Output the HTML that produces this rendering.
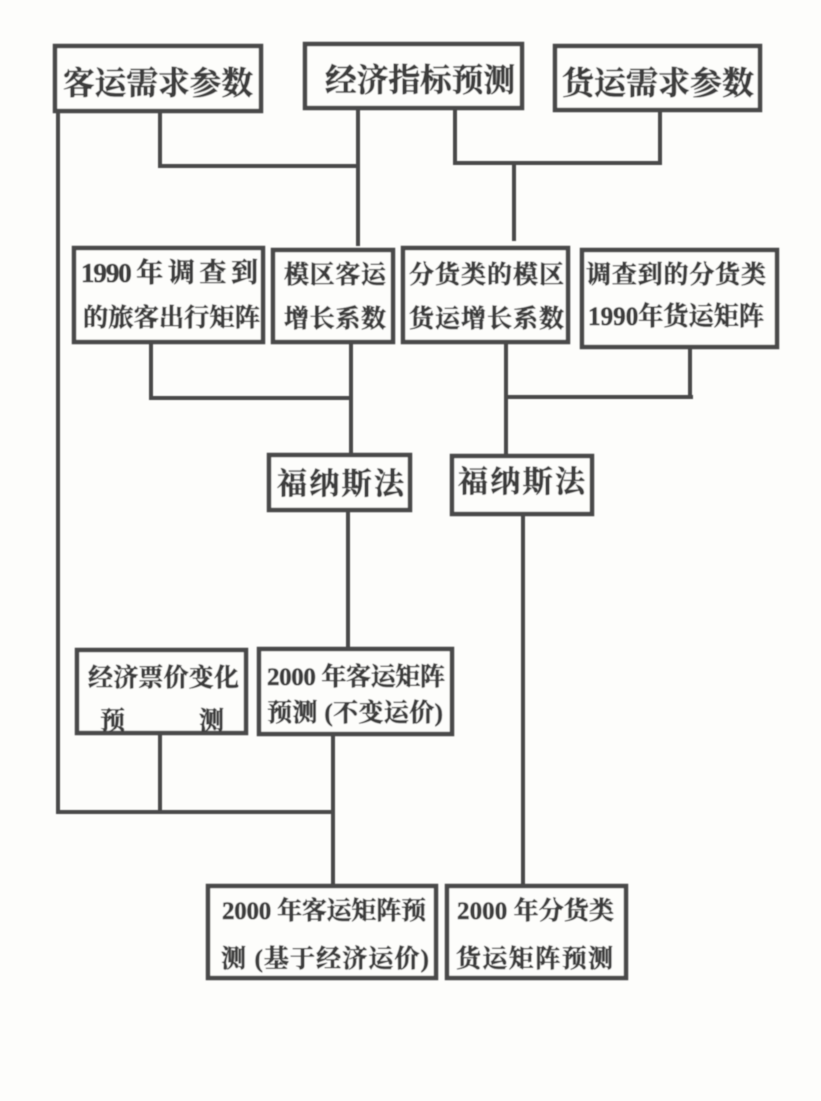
<!DOCTYPE html>
<html lang="zh">
<head>
<meta charset="utf-8">
<title>预测流程图</title>
<style>
html,body{margin:0;padding:0;background:#fdfdfb;}
svg{display:block;}
text{font-family:"Liberation Serif","Noto Serif CJK SC",serif;font-weight:700;fill:#3c3c3c;stroke:#3c3c3c;stroke-width:.6;}
rect{fill:#fdfdfb;stroke:#4a4a4a;stroke-width:4.5;}
line{stroke:#4a4a4a;stroke-width:4;}
</style>
</head>
<body>
<svg xmlns="http://www.w3.org/2000/svg" width="821" height="1101" viewBox="0 0 821 1101">
<defs><filter id="b" filterUnits="userSpaceOnUse" x="0" y="0" width="821" height="1101"><feGaussianBlur stdDeviation="0.6"/></filter></defs>
<g filter="url(#b)">
<!-- connectors -->
<line x1="58" y1="111" x2="58" y2="814"/>
<line x1="56" y1="812" x2="335" y2="812"/>
<line x1="160" y1="111" x2="160" y2="167"/>
<line x1="158" y1="166" x2="358" y2="166"/>
<line x1="358" y1="108" x2="358" y2="246"/>
<line x1="455" y1="108" x2="455" y2="165"/>
<line x1="453" y1="163" x2="662" y2="163"/>
<line x1="660" y1="110" x2="660" y2="165"/>
<line x1="514" y1="163" x2="514" y2="241"/>
<line x1="151" y1="342" x2="151" y2="400"/>
<line x1="149" y1="398" x2="351" y2="398"/>
<line x1="351" y1="342" x2="351" y2="454"/>
<line x1="506" y1="342" x2="506" y2="455"/>
<line x1="690" y1="347" x2="690" y2="399"/>
<line x1="504" y1="397" x2="693" y2="397"/>
<line x1="348" y1="510" x2="348" y2="648"/>
<line x1="523" y1="514" x2="523" y2="885"/>
<line x1="160" y1="733" x2="160" y2="812"/>
<line x1="333" y1="734" x2="333" y2="885"/>
<!-- boxes -->
<rect x="55" y="46" width="206" height="65"/>
<rect x="305" y="44" width="217" height="64"/>
<rect x="555" y="46" width="205" height="64"/>
<rect x="74" y="248" width="189" height="94"/>
<rect x="273" y="250" width="120" height="92"/>
<rect x="403" y="248" width="165" height="94"/>
<rect x="582" y="250" width="195" height="97"/>
<rect x="269" y="455" width="141" height="55"/>
<rect x="452" y="456" width="140" height="58"/>
<rect x="77" y="650" width="169" height="83"/>
<rect x="259" y="649" width="193" height="85"/>
<rect x="208" y="886" width="228" height="92"/>
<rect x="447" y="886" width="179" height="92"/>
<!-- labels -->
<text x="63" y="94" font-size="32" textLength="190" lengthAdjust="spacingAndGlyphs">客运需求参数</text>
<text x="325" y="91" font-size="32" textLength="190" lengthAdjust="spacingAndGlyphs">经济指标预测</text>
<text x="562" y="94" font-size="32" textLength="192" lengthAdjust="spacingAndGlyphs">货运需求参数</text>
<text x="81" y="282" font-size="27" textLength="177" lengthAdjust="spacing">1990 年 调 查 到</text>
<text x="83" y="326" font-size="25" textLength="177" lengthAdjust="spacingAndGlyphs">的旅客出行矩阵</text>
<text x="284" y="283" font-size="25" textLength="102" lengthAdjust="spacing">模区客运</text>
<text x="284" y="327" font-size="25" textLength="102" lengthAdjust="spacing">增长系数</text>
<text x="409" y="283" font-size="25" textLength="155" lengthAdjust="spacing">分货类的模区</text>
<text x="409" y="327" font-size="25" textLength="155" lengthAdjust="spacing">货运增长系数</text>
<text x="586" y="283" font-size="25" textLength="180" lengthAdjust="spacing">调查到的分货类</text>
<text x="588" y="325" font-size="26" textLength="176" lengthAdjust="spacingAndGlyphs">1990年货运矩阵</text>
<text x="277" y="494" font-size="30" textLength="127" lengthAdjust="spacing">福纳斯法</text>
<text x="458" y="492" font-size="30" textLength="127" lengthAdjust="spacing">福纳斯法</text>
<text x="88" y="686" font-size="25" textLength="151" lengthAdjust="spacing">经济票价变化</text>
<text x="100" y="729" font-size="25">预</text>
<text x="199" y="729" font-size="25">测</text>
<text x="267" y="685" font-size="25" textLength="178" lengthAdjust="spacing">2000 年客运矩阵</text>
<text x="267" y="721" font-size="25" textLength="176" lengthAdjust="spacing">预测 (不变运价)</text>
<text x="222" y="919" font-size="25" textLength="204" lengthAdjust="spacing">2000 年客运矩阵预</text>
<text x="221" y="967" font-size="25" textLength="208" lengthAdjust="spacing">测 (基于经济运价)</text>
<text x="457" y="919" font-size="25" textLength="157" lengthAdjust="spacing">2000 年分货类</text>
<text x="456" y="967" font-size="25" textLength="157" lengthAdjust="spacing">货运矩阵预测</text>
</g>
</svg>
</body>
</html>
